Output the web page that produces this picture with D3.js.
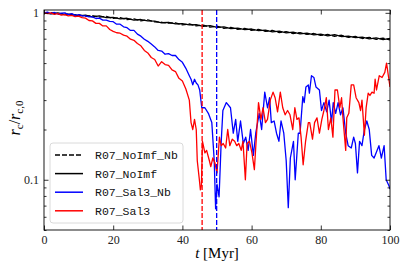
<!DOCTYPE html>
<html>
<head>
<meta charset="utf-8">
<style>
    body { margin: 0; background: #fff; }
    .tick text { font-family: "Liberation Serif", serif; font-size: 12px; fill: #222; }
    .legend text { font-family: "Liberation Mono", monospace; font-size: 11.5px; fill: #111; }
</style>
<title>core radius</title>
</head>
<body>
<script src="https://d3js.org/d3.v7.min.js"></script>
<script>
    // black runs, sampled every 2 Myr
    var tBlack = [0, 2, 4, 6, 8, 10, 12, 14, 16, 18, 20, 22, 24, 26, 28, 30, 32, 34, 36, 38, 40, 42, 44, 46, 48, 50,
        52, 54, 56, 58, 60, 62, 64, 66, 68, 70, 72, 74, 76, 78, 80, 82, 84, 86, 88, 90, 92, 94, 96, 98, 100];
    var noImf = [1.0, 0.985, 0.998, 0.976, 0.982, 0.96, 0.968, 0.945, 0.958, 0.936, 0.94, 0.92, 0.928, 0.905, 0.912, 0.895,
        0.892, 0.872, 0.878, 0.858, 0.862, 0.846, 0.85, 0.83, 0.838, 0.818, 0.824, 0.804, 0.81, 0.794, 0.8, 0.782,
        0.788, 0.77, 0.776, 0.758, 0.766, 0.748, 0.756, 0.738, 0.746, 0.728, 0.74, 0.72, 0.726, 0.71, 0.716, 0.698,
        0.708, 0.692, 0.703];
    var noImfNb = [1.0, 1.003, 0.984, 0.992, 0.968, 0.976, 0.952, 0.962, 0.942, 0.952, 0.926, 0.936, 0.912, 0.92, 0.896, 0.908,
        0.882, 0.878, 0.868, 0.87, 0.848, 0.858, 0.836, 0.844, 0.822, 0.832, 0.808, 0.818, 0.796, 0.806, 0.786, 0.796, 0.774,
        0.784, 0.762, 0.772, 0.752, 0.762, 0.742, 0.752, 0.732, 0.742, 0.724, 0.734, 0.712, 0.722, 0.702, 0.712, 0.694,
        0.706, 0.688];

    var tBlue = [0, 1, 2, 3, 4, 5, 6, 7, 8, 9, 10, 11, 12, 13, 14, 15, 16, 17, 18, 19, 20, 21, 22, 23, 24, 25, 26, 27,
        28, 29, 30, 31, 32, 33, 34, 35, 36, 37, 38, 39, 40, 41, 42, 42.5, 43, 43.5, 44, 44.5, 45, 45.6, 46.5, 47.5, 48.5,
        49.2, 49.6, 50, 50.6, 51.2, 51.7, 52.7, 53.9, 54.7, 55.4, 56, 56.8, 57.6, 58.3, 59, 59.7, 60.5, 61.2, 62.2, 62.9,
        63.8, 64.6, 65.2, 65.7, 66.5, 67.2, 67.9, 68.5, 69.3, 70, 70.6, 71.2, 72.1, 72.6, 73.5, 74, 74.8, 75.2, 75.7, 76.4,
        76.7, 77.3, 78, 78.6, 79.6, 80.2, 80.9, 81.7, 82.4, 83.1, 83.6, 84.3, 85, 85.7, 86.4, 87.2, 87.9, 88.8, 89.5, 90,
        90.6, 91.2, 91.9, 92.6, 93.3, 94, 94.7, 95.4, 96, 96.8, 97.5, 98.3, 98.9, 99.7, 100];
    var sal3Nb = [1.0, 1.01, 0.99, 1.005, 0.985, 0.995, 1.0, 0.975, 0.99, 0.965, 0.975, 0.96, 0.96, 0.945, 0.945, 0.925, 0.93,
        0.905, 0.905, 0.89, 0.885, 0.855, 0.855, 0.825, 0.815, 0.785, 0.785, 0.745, 0.725, 0.695, 0.675, 0.65, 0.625, 0.595, 0.59, 0.565,
        0.57, 0.555, 0.555, 0.525, 0.505, 0.465, 0.42, 0.4, 0.37, 0.4, 0.38, 0.37, 0.345, 0.27, 0.27, 0.25, 0.22, 0.13, 0.067,
        0.094, 0.079, 0.166, 0.26, 0.29, 0.27, 0.19, 0.23, 0.17, 0.225, 0.165, 0.18, 0.15, 0.2, 0.14, 0.19, 0.25, 0.2,
        0.335, 0.27, 0.31, 0.22, 0.225, 0.19, 0.17, 0.225, 0.19, 0.13, 0.068, 0.135, 0.17, 0.1, 0.19, 0.19, 0.315, 0.29,
        0.36, 0.37, 0.33, 0.42, 0.41, 0.36, 0.345, 0.26, 0.29, 0.255, 0.3, 0.22, 0.29, 0.25, 0.29, 0.245, 0.27, 0.19, 0.16,
        0.155, 0.18, 0.165, 0.11, 0.17, 0.16, 0.2, 0.225, 0.2, 0.14, 0.135, 0.145, 0.16, 0.135, 0.16, 0.1, 0.092, 0.088];

    var tRed = [0, 1, 2, 3, 4, 5, 6, 7, 8, 9, 10, 11, 12, 13, 14, 15, 16, 17, 18, 19, 20, 21, 22, 23, 24, 25, 26, 27,
        28, 29, 30, 31, 32, 33, 34, 35, 36, 37, 38, 39, 40, 41, 42, 42.5, 43, 43.5, 44, 44.3, 44.9, 45.2, 45.5, 45.8, 46.5,
        47, 47.8, 48.2, 48.8, 49.4, 50, 50.7, 51.2, 51.8, 52.5, 53.1, 53.7, 54.4, 55.1, 55.7, 56.3, 57, 57.5, 58.2, 58.7,
        59.4, 60.1, 60.8, 61.3, 62, 62.7, 63.3, 64, 64.6, 65.4, 66.2, 66.8, 67.5, 68.3, 69, 69.7, 70.4, 71.1, 71.9, 72.5,
        73.1, 73.7, 74.3, 74.9, 75.6, 76.4, 76.8, 77.6, 78.2, 78.9, 79.6, 80.3, 80.9, 81.6, 82.2, 82.9, 83.5, 84.1, 84.8,
        85.5, 86, 86.4, 87.2, 87.5, 88.1, 88.8, 89.5, 90.2, 91, 91.5, 91.9, 92.6, 93.1, 93.7, 94.2, 94.8, 95.4, 95.7, 96.1,
        96.9, 97.7, 98.5, 99, 99.6, 100];
    var sal3 = [1.0, 0.99, 1.0, 0.98, 0.99, 0.97, 0.975, 0.96, 0.965, 0.95, 0.955, 0.935, 0.93, 0.9, 0.895, 0.865, 0.865,
        0.835, 0.835, 0.795, 0.775, 0.76, 0.755, 0.735, 0.725, 0.695, 0.685, 0.655, 0.635, 0.595, 0.575, 0.54, 0.525, 0.48, 0.51, 0.49,
        0.485, 0.455, 0.445, 0.405, 0.39, 0.35, 0.3, 0.22, 0.2, 0.23, 0.2, 0.13, 0.1, 0.087, 0.093, 0.17, 0.145, 0.15, 0.13,
        0.12, 0.135, 0.126, 0.11, 0.18, 0.16, 0.165, 0.155, 0.2, 0.16, 0.175, 0.17, 0.16, 0.165, 0.15, 0.17, 0.1, 0.165,
        0.17, 0.145, 0.115, 0.17, 0.29, 0.23, 0.27, 0.22, 0.23, 0.3, 0.335, 0.31, 0.255, 0.335, 0.27, 0.245, 0.26, 0.245,
        0.2, 0.27, 0.23, 0.235, 0.18, 0.123, 0.17, 0.22, 0.22, 0.175, 0.22, 0.235, 0.19, 0.23, 0.26, 0.31, 0.2, 0.235,
        0.18, 0.345, 0.345, 0.27, 0.31, 0.235, 0.15, 0.235, 0.25, 0.37, 0.37, 0.31, 0.29, 0.26, 0.3, 0.185, 0.27, 0.33,
        0.32, 0.335, 0.33, 0.4, 0.345, 0.42, 0.41, 0.44, 0.5, 0.41, 0.36];

    // time when the core collapses
    var tCollapseSal3 = 45.7;
    var tCollapseSal3Nb = 49.9;

    var xTicks = [0, 20, 40, 60, 80, 100];
    var yMajor = [0.1, 1];
    var yMinor = [0.05, 0.06, 0.07, 0.08, 0.09, 0.2, 0.3, 0.4, 0.5, 0.6, 0.7, 0.8, 0.9];

    var legendNames = ["R07_NoImf_Nb", "R07_NoImf", "R07_Sal3_Nb", "R07_Sal3"];
    var legendColors = ["#000", "#000", "#0000ff", "#ff0000"];
    var legendDash = ["5,2", null, null, null];

    var margin = {top: 10, right: 17, bottom: 40, left: 44},
        width = 407 - margin.left - margin.right,
        height = 270 - margin.top - margin.bottom;

    var x = d3.scaleLinear().domain([0, 100]).range([0, width]);
    var y = d3.scaleLog().domain([0.05, 1.04]).range([height, 0]);

    var svg = d3.select("body").append("svg")
        .attr("width", 407)
        .attr("height", 270)
        .append("g")
        .attr("transform", "translate(" + margin.left + "," + margin.top + ")");

    var defs = svg.append("defs");
    defs.append("clipPath").attr("id", "clip")
        .append("rect").attr("width", width).attr("height", height);

    var plot = svg.append("g").attr("clip-path", "url(#clip)");

    function drawSeries(ts, vs, color, dash) {
        var line = d3.line()
            .x(function (d, i) { return x(ts[i]); })
            .y(function (d) { return y(d); });
        plot.append("path")
            .datum(vs)
            .attr("d", line)
            .attr("fill", "none")
            .attr("stroke", color)
            .attr("stroke-width", 1.3)
            .attr("stroke-linejoin", "round")
            .attr("stroke-dasharray", dash);
    }

    drawSeries(tBlack, noImfNb, "#000", "5,2");
    drawSeries(tBlack, noImf, "#000", null);
    drawSeries(tBlue, sal3Nb, "#0000ff", null);
    drawSeries(tRed, sal3, "#ff0000", null);

    // vertical markers
    [[tCollapseSal3, "#ff0000"], [tCollapseSal3Nb, "#0000ff"]].forEach(function (m) {
        plot.append("line")
            .attr("x1", x(m[0])).attr("x2", x(m[0]))
            .attr("y1", 0).attr("y2", height)
            .attr("stroke", m[1])
            .attr("stroke-width", 1.3)
            .attr("stroke-dasharray", "5,2");
    });

    // axes, ticks inward on all four sides
    var fmt = function (d) { return d === 1 ? "1" : "0.1"; };
    svg.append("g")
        .attr("transform", "translate(0," + height + ")")
        .call(d3.axisBottom(x).tickValues(xTicks).tickSize(-4.5).tickPadding(5));
    svg.append("g")
        .call(d3.axisTop(x).tickValues(xTicks).tickSize(-4.5).tickFormat(""));
    svg.append("g")
        .call(d3.axisLeft(y).tickValues(yMajor).tickSize(-4.5).tickPadding(5).tickFormat(fmt));
    svg.append("g")
        .call(d3.axisLeft(y).tickValues(yMinor).tickSize(-2.5).tickFormat(""));
    svg.append("g")
        .attr("transform", "translate(" + width + ",0)")
        .call(d3.axisRight(y).tickValues(yMajor).tickSize(-4.5).tickFormat(""));
    svg.append("g")
        .attr("transform", "translate(" + width + ",0)")
        .call(d3.axisRight(y).tickValues(yMinor).tickSize(-2.5).tickFormat(""));

    svg.selectAll(".domain").remove();
    svg.selectAll(".tick line").attr("stroke", "#000").attr("stroke-width", 0.8);

    svg.append("rect")
        .attr("width", width).attr("height", height)
        .attr("fill", "none").attr("stroke", "#000").attr("stroke-width", 0.9);

    // axis labels
    var xl = svg.append("text")
        .attr("x", width / 2).attr("y", height + 28)
        .attr("text-anchor", "middle")
        .style("font-family", "'Liberation Serif', serif")
        .style("font-size", "15px");
    xl.append("tspan").style("font-style", "italic").text("t");
    xl.append("tspan").text(" [Myr]");

    var yl = svg.append("text")
        .attr("transform", "translate(-24," + (height / 2 - 2) + ") rotate(-90)")
        .attr("text-anchor", "middle")
        .style("font-family", "'Liberation Serif', serif")
        .style("font-size", "16px");
    yl.append("tspan").style("font-style", "italic").text("r");
    yl.append("tspan").attr("dy", 3).style("font-size", "11px").text("c");
    yl.append("tspan").attr("dy", -3).text("/");
    yl.append("tspan").style("font-style", "italic").text("r");
    yl.append("tspan").attr("dy", 3).style("font-size", "11px").text("c,0");

    // legend
    var lg = svg.append("g").attr("class", "legend").attr("transform", "translate(6,133)");
    lg.append("rect")
        .attr("width", 133).attr("height", 80)
        .attr("rx", 3).attr("ry", 3)
        .attr("fill", "#fff").attr("fill-opacity", 0.85)
        .attr("stroke", "#d0d0d0").attr("stroke-width", 0.8);

    legendNames.forEach(function (name, i) {
        var yy = 12 + i * 18.6;
        lg.append("line")
            .attr("x1", 5).attr("x2", 33)
            .attr("y1", yy).attr("y2", yy)
            .attr("stroke", legendColors[i])
            .attr("stroke-width", 1.5)
            .attr("stroke-dasharray", legendDash[i]);
        lg.append("text")
            .attr("x", 45).attr("y", yy + 4)
            .text(name);
    });
</script>
</body>
</html>
